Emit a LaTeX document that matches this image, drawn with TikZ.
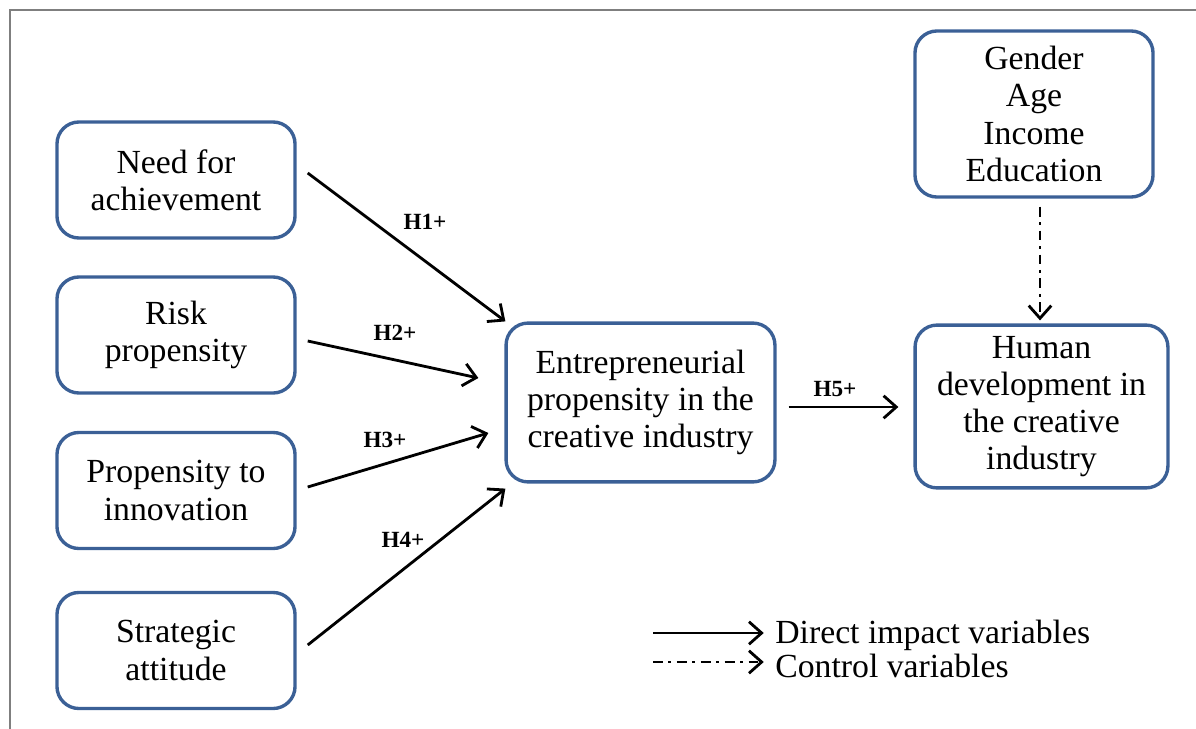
\documentclass[tikz,border=0pt]{standalone}
\usepackage{fontspec}
\setmainfont{Liberation Serif}
\usetikzlibrary{arrows.meta}
\definecolor{boxblue}{HTML}{3B6096}
\definecolor{framegray}{HTML}{7F7F7F}
\tikzset{
  varbox/.style={draw=boxblue, line width=2.4pt, rounded corners=0.55cm, align=center,
    inner sep=0pt, font=\fontsize{24}{26.5}\selectfont},
  direct/.style={line width=2pt, -{Straight Barb[length=9pt,width=16pt]}},
  control/.style={line width=2pt, dash pattern=on 7pt off 4pt on 2pt off 4pt,
    -{Straight Barb[length=9pt,width=16pt]}},
  hlabel/.style={font=\fontsize{16.5}{18}\selectfont\bfseries},
  legtext/.style={anchor=base west, inner sep=0pt, font=\fontsize{24}{26.5}\selectfont}
}
\begin{document}
\begin{tikzpicture}[x=0.025cm, y=-0.025cm]
\useasboundingbox (0,0) rectangle (1196,729);
\draw[framegray, line width=1.4pt] (10,729) -- (10,10) -- (1196,10);
\node (na) at (176,180) [varbox, minimum width=5.95cm, minimum height=2.9cm]{Need for\\achievement};
\node (nr) at (176,335) [varbox, minimum width=5.95cm, minimum height=2.9cm]{Risk\\propensity};
\node (ni) at (176,490.5) [varbox, minimum width=5.95cm, minimum height=2.9cm]{Propensity to\\innovation};
\node (ns) at (176,650.5) [varbox, minimum width=5.95cm, minimum height=2.9cm]{Strategic\\attitude};
\node (ep) at (640.5,402.5) [varbox, minimum width=6.72cm, minimum height=3.97cm]{Entrepreneurial\\propensity in the\\creative industry};
\node (hd) at (1041.5,406.5) [varbox, minimum width=6.32cm, minimum height=4.07cm]{Human\\development in\\the creative\\industry};
\node (ctl) at (1034,114) [varbox, minimum width=5.95cm, minimum height=4.15cm]{Gender\\Age\\Income\\Education};
\draw[direct] ([shift={(11,-7)}]na.east) -- ([shift={(1,0)}]ep.north west);
\draw[direct] ([shift={(11,6)}]nr.east) -- ([shift={(-26,-24.5)}]ep.west);
\draw[direct] ([shift={(11,-3.5)}]ni.east) -- ([shift={(-16,30.5)}]ep.west);
\draw[direct] ([shift={(11,-5.5)}]ns.east) -- ([shift={(1,5)}]ep.south west);
\draw[direct] ([shift={(12,4.5)}]ep.east) -- ([shift={(-15,0.5)}]hd.west);
\draw[control] ([shift={(6,8)}]ctl.south) -- ([shift={(-1.5,-3)}]hd.north);
\node (h1) at (425,222) [hlabel]{H1+};
\node (h2) at (395,333) [hlabel]{H2+};
\node (h3) at (385,440) [hlabel]{H3+};
\node (h4) at (403,540) [hlabel]{H4+};
\node (h5) at (835,389) [hlabel]{H5+};
\node (ldirect) at (775,643) [legtext]{Direct impact variables};
\node (lcontrol) at (775,677) [legtext]{Control variables};
\coordinate (d0) at (653,633);
\coordinate (c0) at (653,662);
\draw[direct] (d0) -- ([xshift=-8]d0 -| ldirect.west);
\draw[control] (c0) -- ([xshift=-8]c0 -| lcontrol.west);
\end{tikzpicture}
\end{document}
